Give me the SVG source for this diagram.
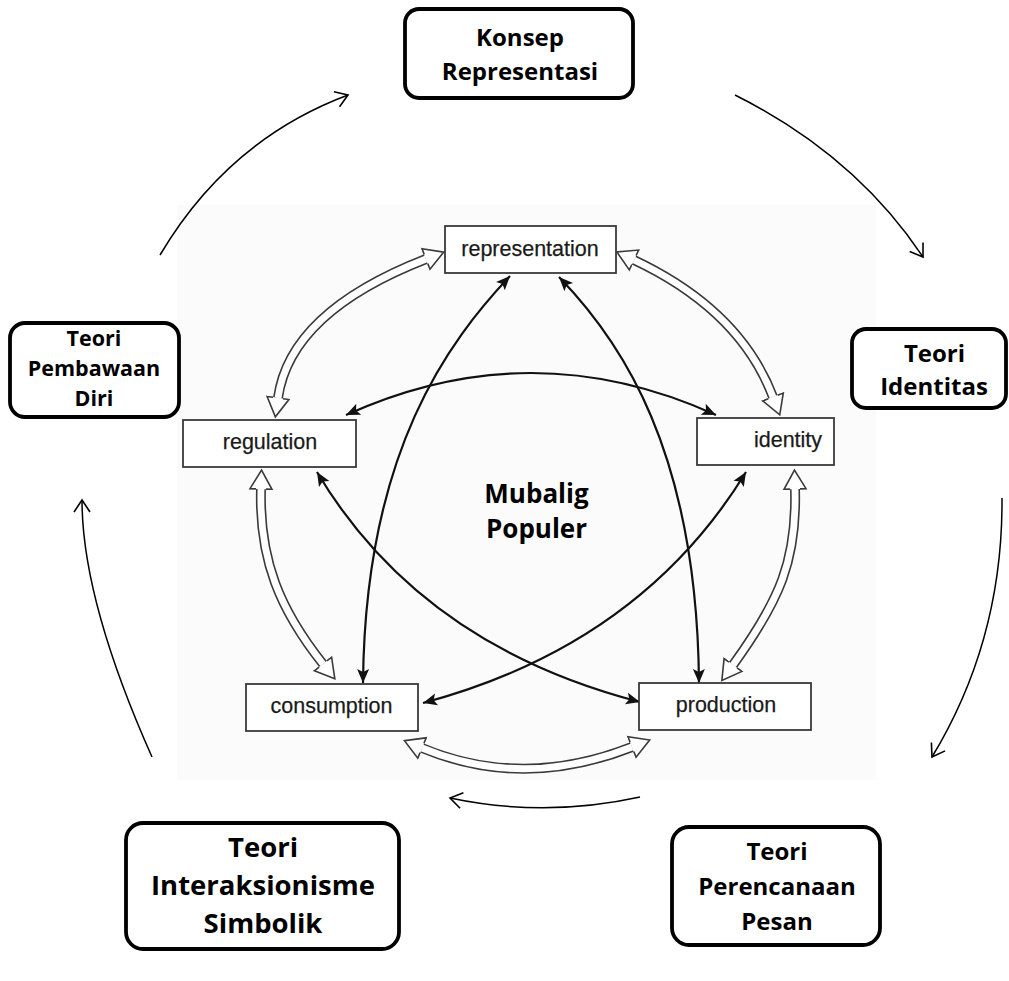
<svg xmlns="http://www.w3.org/2000/svg" width="1009" height="981" viewBox="0 0 1009 981">
<defs>
<marker id="open" viewBox="-15 -9 17 18" markerWidth="17" markerHeight="18" refX="0" refY="0" orient="auto" markerUnits="userSpaceOnUse">
<path d="M-12,-8 L0,0 L-12,8" fill="none" stroke="#000" stroke-width="1.6"/>
</marker>
<marker id="solid" viewBox="-15 -7 16 14" markerWidth="16" markerHeight="14" refX="0" refY="0" orient="auto-start-reverse" markerUnits="userSpaceOnUse">
<path d="M-14,-6 L0,0 L-14,6 L-11,0 Z" fill="#111"/>
</marker>
<marker id="hollow" viewBox="-1 -13 22 26" markerWidth="22" markerHeight="26" refX="0" refY="0" orient="auto-start-reverse" markerUnits="userSpaceOnUse">
<path d="M0,-11 L19,0 L0,11 Z" fill="#fff"/>
<path d="M0,-5 L0,-11 L19,0 L0,11 L0,5" fill="none" stroke="#3a3a3a" stroke-width="1.6" stroke-linejoin="miter"/>
</marker>
</defs>
<style>
.big{fill:#fff;stroke:#000;stroke-width:3.8}
.bt{font-family:"Open Sans",Lato,sans-serif;font-weight:bold;fill:#000;text-anchor:middle}
.sm{fill:#fff;stroke:#3a3a3a;stroke-width:1.8}
.st{font-family:"Liberation Sans",Arial,sans-serif;font-size:21.5px;fill:#1a1a1a;stroke:#1a1a1a;stroke-width:0.25;text-anchor:middle}
.arc{fill:none;stroke:#000;stroke-width:1.5;marker-end:url(#open)}
.blk{fill:none;stroke:#111;stroke-width:2.2;marker-start:url(#solid);marker-end:url(#solid)}
.hout{fill:none;stroke:#3a3a3a;stroke-width:10}
.hin{fill:none;stroke:#fff;stroke-width:6.8;marker-start:url(#hollow);marker-end:url(#hollow)}
</style>
<rect x="0" y="0" width="1009" height="981" fill="#fff"/>
<rect x="177" y="205" width="699" height="575" fill="#fbfbfb"/>

<g id="connectors">
<path class="arc" d="M160,255 Q228,140 348,95"/>
<path class="arc" d="M735,95 Q855,155 923,257"/>
<path class="arc" d="M1002,498 Q1003,640 932,757"/>
<path class="arc" d="M640,797 Q545,818 450,798"/>
<path class="arc" d="M152,757 Q82,600 82,500"/>
<path class="hout" d="M426,259 Q290,312 278,398"/>
<path class="hin" d="M426,259 Q290,312 278,398"/>
<path class="hout" d="M634,260 Q740,310 773,397"/>
<path class="hin" d="M634,260 Q740,310 773,397"/>
<path class="hout" d="M795,489 C797,560 780,600 733,665"/>
<path class="hin" d="M795,489 C797,560 780,600 733,665"/>
<path class="hout" d="M422,748 Q523,790 632,747"/>
<path class="hin" d="M422,748 Q523,790 632,747"/>
<path class="hout" d="M261,489 C259,560 280,610 323,664"/>
<path class="hin" d="M261,489 C259,560 280,610 323,664"/>
<path class="blk" d="M510,276 C450,340 365,450 363,683"/>
<path class="blk" d="M559,277 C620,340 697,450 699,683"/>
<path class="blk" d="M346,415 Q531,331 716,415"/>
<path class="blk" d="M317,472 Q420,645 640,702"/>
<path class="blk" d="M746,472 Q640,645 423,703"/>
</g>

<g id="representation"><rect class="sm" x="445" y="226" width="171" height="47"/><text class="st" x="530" y="256">representation</text></g>
<g id="regulation"><rect class="sm" x="183" y="420" width="173" height="47"/><text class="st" x="270" y="449">regulation</text></g>
<g id="identity"><rect class="sm" x="697" y="418" width="137" height="47"/><text class="st" x="788" y="447">identity</text></g>
<g id="consumption"><rect class="sm" x="246" y="684" width="172" height="47"/><text class="st" x="331.5" y="713">consumption</text></g>
<g id="production"><rect class="sm" x="639" y="683" width="172" height="47"/><text class="st" x="726" y="712">production</text></g>
<g id="center"><text class="bt" font-size="26" x="536.5" y="503">Mubalig</text><text class="bt" font-size="26" x="536.5" y="538">Populer</text></g>

<g id="konsep"><rect class="big" x="405" y="9" width="228" height="89" rx="14"/><text class="bt" font-size="24" x="520" y="46">Konsep</text><text class="bt" font-size="24" x="520" y="80">Representasi</text></g>
<g id="identitas"><rect class="big" x="852" y="329" width="154" height="79" rx="14"/><text class="bt" font-size="24" x="934.5" y="362">Teori</text><text class="bt" font-size="24" x="934" y="395">Identitas</text></g>
<g id="pembawaan"><rect class="big" x="10" y="323" width="169" height="94" rx="15"/><text class="bt" font-size="21.5" x="94" y="346">Teori</text><text class="bt" font-size="21.5" x="94" y="376">Pembawaan</text><text class="bt" font-size="21.5" x="94" y="406">Diri</text></g>
<g id="interaksionisme"><rect class="big" x="126" y="823" width="273" height="126" rx="17"/><text class="bt" font-size="27.5" x="263" y="857">Teori</text><text class="bt" font-size="27.5" x="263" y="895">Interaksionisme</text><text class="bt" font-size="27.5" x="263" y="933">Simbolik</text></g>
<g id="perencanaan"><rect class="big" x="672" y="827" width="208" height="118" rx="17"/><text class="bt" font-size="24" x="777" y="860">Teori</text><text class="bt" font-size="24" x="777" y="895">Perencanaan</text><text class="bt" font-size="24" x="777" y="930">Pesan</text></g>
</svg>
